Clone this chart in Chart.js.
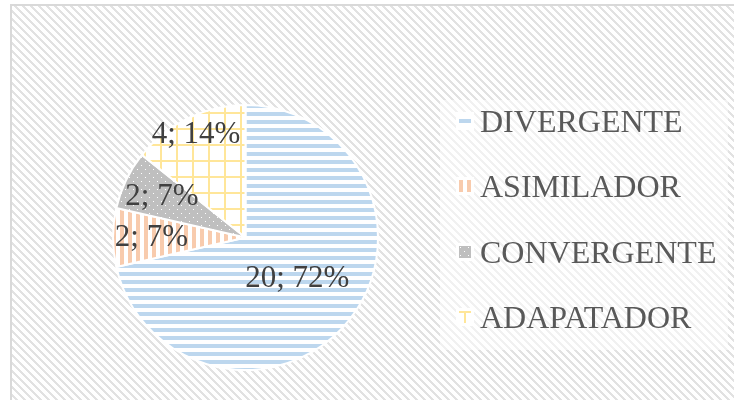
<!DOCTYPE html>
<html><head><meta charset="utf-8">
<script src="https://cdn.jsdelivr.net/npm/chart.js@4/dist/chart.umd.min.js"></script>
<style>html,body{margin:0;padding:0;background:#fff;overflow:hidden}#wrap{position:relative;width:734px;height:400px}</style>
</head><body><div id="wrap"><canvas id="c" width="734" height="400"></canvas></div>
<script>
const categories = ['DIVERGENTE', 'ASIMILADOR', 'CONVERGENTE', 'ADAPATADOR'];
const counts = [20, 2, 2, 4];
const percentLabels = ['72%', '7%', '7%', '14%'];

function makeTile(w, h, draw) {
  const c = document.createElement('canvas');
  c.width = w; c.height = h;
  const x = c.getContext('2d');
  draw(x);
  return c;
}
const tmp = document.createElement('canvas').getContext('2d');
const tiles = {
  bg: makeTile(8, 8, x => {
    x.fillStyle = '#ffffff'; x.fillRect(0, 0, 8, 8);
    x.fillStyle = '#e2e2e2';
    for (let i = 0; i < 8; i++) for (let j = 0; j < 8; j++) {
      if (((i - j) % 8 + 8) % 8 < 3) x.fillRect(i, j, 1, 1);
    }
  }),
  blue: makeTile(8, 8, x => {
    x.fillStyle = '#ffffff'; x.fillRect(0, 0, 8, 8);
    x.fillStyle = '#bdd7ee'; x.fillRect(0, 0, 8, 4);
  }),
  orange: makeTile(8, 8, x => {
    x.fillStyle = '#ffffff'; x.fillRect(0, 0, 8, 8);
    x.fillStyle = '#f8cbad'; x.fillRect(0, 0, 4, 8);
  }),
  gray: makeTile(8, 8, x => {
    x.fillStyle = '#bfbfbf'; x.fillRect(0, 0, 8, 8);
    x.fillStyle = '#ffffff'; x.fillRect(1, 1, 1, 1); x.fillRect(5, 5, 1, 1);
  }),
  yellow: makeTile(16, 16, x => {
    x.fillStyle = '#ffffff'; x.fillRect(0, 0, 16, 16);
    x.fillStyle = '#ffe699'; x.fillRect(0, 0, 16, 2); x.fillRect(0, 0, 2, 16);
  })
};
const pat = {};
for (const k in tiles) pat[k] = tmp.createPattern(tiles[k], 'repeat');
const sliceFills = [pat.blue, pat.orange, pat.gray, pat.yellow];
const sliceTiles = ['blue', 'orange', 'gray', 'yellow'];
const labelRadius = [0.5, 0.71, 0.70, 0.86];

const bgPlugin = {
  id: 'bg',
  beforeDraw(chart) {
    const ctx = chart.ctx;
    ctx.save();
    ctx.fillStyle = '#ffffff';
    ctx.fillRect(0, 0, 734, 400);
    ctx.fillStyle = ctx.createPattern(tiles.bg, 'repeat');
    ctx.fillRect(12, 6, 722, 394);
    ctx.strokeStyle = '#d9d9d9';
    ctx.lineWidth = 2;
    ctx.beginPath();
    ctx.moveTo(11, 400); ctx.lineTo(11, 5); ctx.lineTo(734, 5);
    ctx.stroke();
    ctx.fillStyle = 'rgba(255,255,255,0.5)';
    ctx.fillRect(440, 100, 288, 250);
    ctx.restore();
  }
};

const labelPlugin = {
  id: 'lbl',
  afterDatasetsDraw(chart) {
    const ctx = chart.ctx;
    const meta = chart.getDatasetMeta(0);
    ctx.save();
    ctx.font = '31px "Liberation Serif", "Times New Roman", serif';
    ctx.fillStyle = '#404040';
    ctx.textAlign = 'center';
    ctx.textBaseline = 'middle';
    meta.data.forEach((arc, i) => {
      const p = arc.getProps(['x', 'y', 'startAngle', 'endAngle', 'outerRadius'], true);
      const mid = (p.startAngle + p.endAngle) / 2;
      const d = p.outerRadius * labelRadius[i];
      ctx.fillText(counts[i] + '; ' + percentLabels[i], p.x + Math.cos(mid) * d, p.y + Math.sin(mid) * d);
    });
    // legend
    ctx.font = '32px "Liberation Serif", "Times New Roman", serif';
    ctx.textAlign = 'left';
    ctx.textBaseline = 'alphabetic';
    categories.forEach((name, i) => {
      const base = 132 + i * 65.3;
      const top = Math.round(base - 17);
      ctx.fillStyle = '#ffffff';
      ctx.fillRect(456, top - 3, 18, 18);
      ctx.save();
      const offY = i === 0 ? 4 : 0;
      const offX = i === 3 ? 5 : 0;
      ctx.translate(459 + offX, top + offY);
      ctx.fillStyle = tmp.createPattern(tiles[sliceTiles[i]], 'repeat');
      ctx.fillRect(-offX, -offY, 12, 12);
      ctx.restore();
      ctx.fillStyle = '#595959';
      ctx.fillText(name, 480, base);
    });
    ctx.restore();
  }
};

new Chart(document.getElementById('c'), {
  type: 'pie',
  data: {
    labels: categories,
    datasets: [{
      data: counts,
      backgroundColor: sliceFills,
      borderColor: '#ffffff',
      borderWidth: 2
    }]
  },
  options: {
    responsive: false,
    animation: false,
    devicePixelRatio: 1,
    layout: { padding: { left: 112, top: 104, right: 355, bottom: 29 } },
    plugins: { legend: { display: false }, tooltip: { enabled: false } }
  },
  plugins: [bgPlugin, labelPlugin]
});
</script>
</body></html>
